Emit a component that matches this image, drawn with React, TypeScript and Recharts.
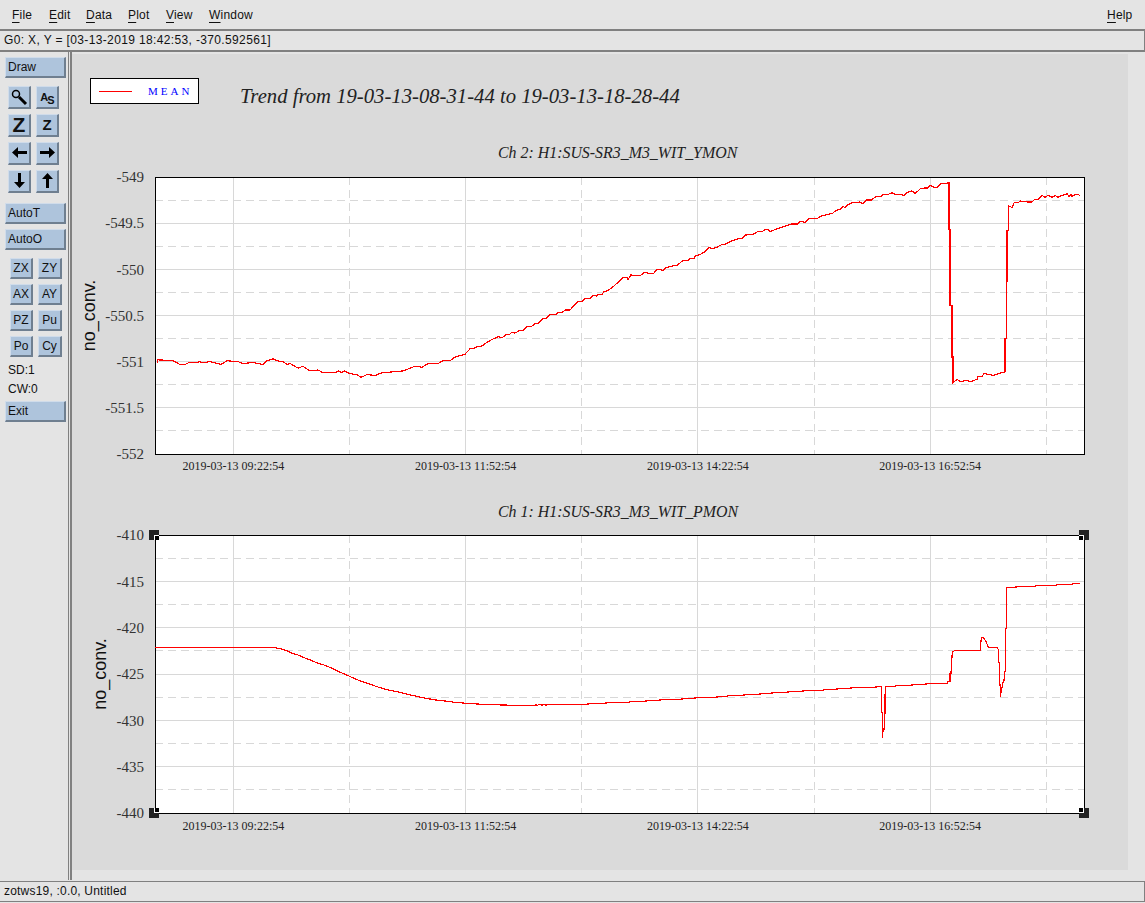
import { CartesianGrid, Line, LineChart, ReferenceArea, XAxis, YAxis } from "recharts";

const menuLeft = [
  ["File", 12],
  ["Edit", 49],
  ["Data", 86],
  ["Plot", 128],
  ["View", 166],
  ["Window", 209],
  ["Help", 1107],
] as const;

// minutes since 08:31:44
const xDomain = [0, 600];
const xMajorTicks = [50.67, 200.67, 350.67, 500.67];
const xMinorTicks = [125.67, 275.67, 425.67, 575.67];
const xTickLabels = [
  "2019-03-13 09:22:54",
  "2019-03-13 11:52:54",
  "2019-03-13 14:22:54",
  "2019-03-13 16:52:54",
];

const ymonTicks = [-549, -549.5, -550, -550.5, -551, -551.5, -552];
const ymonMinor = [-549.25, -549.75, -550.25, -550.75, -551.25, -551.75];
const pmonTicks = [-410, -415, -420, -425, -430, -435, -440];
const pmonMinor = [-412.5, -417.5, -422.5, -427.5, -432.5, -437.5];

const ymonTimes = [
  1.3, 1.9, 11.6, 16.1, 19.4, 22.0, 27.1, 28.4, 31.0, 35.5, 42.6, 46.5, 53.6, 56.8, 63.3, 69.8, 72.3, 76.2, 78.8,
  82.7, 85.3, 87.2, 92.4, 95.6, 100.1, 105.3, 108.5, 116.9, 118.2, 120.8, 122.1, 125.9, 130.5, 133.1, 136.9, 142.1,
  146.6, 153.7, 160.2, 167.9, 172.5, 176.3, 182.8, 186.0, 190.5, 193.8, 200.2, 203.5, 205.4, 208.0, 211.2, 214.4,
  217.7, 221.5, 224.1, 226.7, 228.6, 230.6, 232.5, 235.8, 237.7, 240.3, 242.9, 245.4, 248.0, 250.0, 252.5, 255.1,
  259.0, 260.3, 262.9, 264.8, 268.0, 273.2, 275.8, 277.7, 279.7, 281.6, 282.9, 285.5, 286.1, 288.7, 290.0, 292.6,
  295.8, 298.4, 302.3, 304.9, 305.5, 307.4, 310.7, 313.3, 316.5, 319.7, 322.3, 324.2, 328.1, 330.1, 333.3, 334.6,
  337.2, 340.4, 344.3, 346.2, 348.1, 349.4, 352.0, 355.2, 357.8, 359.8, 363.0, 366.2, 368.2, 371.4, 374.6, 376.6,
  379.1, 381.1, 384.3, 386.2, 389.5, 392.1, 394.0, 395.9, 397.2, 400.5, 403.7, 405.6, 407.6, 410.8, 414.7, 416.6,
  419.8, 422.4, 427.6, 430.8, 433.4, 437.9, 439.9, 442.4, 444.4, 445.7, 447.6, 450.2, 453.4, 454.7, 457.3, 459.2,
  462.5, 465.7, 468.9, 470.2, 473.4, 476.0, 478.6, 481.2, 483.8, 485.7, 488.9, 490.9, 494.1, 496.7, 499.3, 500.6,
  503.1, 505.1, 507.7, 510.9, 512.8, 512.8, 513.5, 513.5, 514.8, 514.8, 515.4, 515.4, 518.0, 520.6, 521.9, 524.5,
  526.4, 530.9, 531.6, 534.2, 535.4, 539.3, 541.3, 544.5, 547.1, 549.0, 549.0, 549.7, 549.7, 550.3, 550.3, 551.0,
  551.0, 553.5, 554.8, 557.4, 558.7, 563.2, 566.4, 568.4, 570.3, 572.9, 574.8, 576.8, 579.4, 581.3, 583.2, 585.2,
  588.4, 589.1, 590.3, 591.6, 592.3, 594.2, 596.2, 597.4,
];
const ymonValues = [
  -551.01, -550.98, -550.99, -551.03, -551.03, -551.01, -551.01, -551.0, -551.01, -551.0, -551.03, -550.99, -551.0,
  -551.02, -551.01, -551.03, -550.99, -550.97, -550.99, -551.0, -551.03, -551.02, -551.07, -551.05, -551.1, -551.09,
  -551.12, -551.12, -551.1, -551.12, -551.1, -551.13, -551.14, -551.17, -551.14, -551.15, -551.12, -551.11, -551.1,
  -551.05, -551.06, -551.02, -551.02, -550.99, -550.99, -550.95, -550.92, -550.86, -550.86, -550.84, -550.83, -550.79,
  -550.76, -550.73, -550.74, -550.71, -550.71, -550.68, -550.69, -550.66, -550.66, -550.62, -550.62, -550.59, -550.58,
  -550.54, -550.53, -550.49, -550.49, -550.47, -550.47, -550.44, -550.44, -550.35, -550.35, -550.32, -550.32, -550.31,
  -550.28, -550.29, -550.27, -550.27, -550.24, -550.23, -550.19, -550.15, -550.09, -550.09, -550.11, -550.06, -550.07,
  -550.07, -550.03, -550.05, -550.04, -550.0, -550.01, -549.98, -549.97, -549.96, -549.96, -549.91, -549.9, -549.88,
  -549.88, -549.85, -549.84, -549.81, -549.76, -549.78, -549.76, -549.73, -549.73, -549.7, -549.68, -549.67, -549.67,
  -549.63, -549.62, -549.62, -549.59, -549.59, -549.57, -549.57, -549.59, -549.57, -549.55, -549.54, -549.53, -549.51,
  -549.51, -549.48, -549.49, -549.45, -549.45, -549.42, -549.41, -549.39, -549.36, -549.35, -549.32, -549.33, -549.3,
  -549.28, -549.28, -549.27, -549.29, -549.25, -549.25, -549.21, -549.21, -549.19, -549.19, -549.17, -549.19, -549.19,
  -549.2, -549.17, -549.15, -549.18, -549.13, -549.12, -549.12, -549.09, -549.11, -549.11, -549.07, -549.07, -549.06,
  -549.57, -549.57, -550.39, -550.39, -550.95, -550.95, -551.23, -551.19, -551.22, -551.21, -551.2, -551.22, -551.19,
  -551.16, -551.16, -551.13, -551.14, -551.15, -551.13, -551.12, -551.11, -550.75, -550.75, -550.13, -550.13, -549.58,
  -549.58, -549.31, -549.33, -549.28, -549.28, -549.26, -549.27, -549.27, -549.24, -549.24, -549.2, -549.22, -549.2,
  -549.22, -549.2, -549.22, -549.2, -549.19, -549.18, -549.21, -549.19, -549.21, -549.19, -549.19, -549.2,
];

const pmonTimes = [
  0.3, 76.2, 80.7, 85.3, 88.5, 92.4, 96.9, 101.4, 105.3, 109.8, 114.3, 118.2, 124.7, 131.1, 137.6, 144.0, 150.5,
  157.0, 163.4, 169.9, 176.3, 182.8, 188.6, 193.1, 200.9, 211.2, 231.2, 245.4, 246.1, 246.7, 248.7, 250.0, 251.3,
  252.5, 253.2, 279.7, 279.7, 291.3, 291.3, 306.2, 306.2, 317.1, 317.1, 326.2, 326.2, 340.4, 340.4, 348.8, 348.8,
  363.0, 363.0, 369.5, 369.5, 380.4, 380.4, 390.8, 390.8, 398.5, 398.5, 408.8, 408.8, 418.5, 418.5, 431.5, 431.5,
  440.5, 440.5, 449.5, 449.5, 465.7, 465.7, 469.4, 469.4, 470.0, 470.0, 470.2, 470.9, 470.9, 471.5, 471.5, 471.7,
  478.0, 478.0, 488.9, 488.9, 498.0, 498.0, 511.6, 511.6, 513.5, 513.5, 514.1, 514.6, 515.0, 516.7, 533.0, 533.0,
  533.9, 535.2, 536.5, 537.4, 538.2, 544.0, 544.7, 544.7, 545.3, 545.3, 546.0, 546.0, 546.6, 546.6, 547.3, 548.2,
  548.8, 548.8, 549.4, 549.4, 550.1, 550.1, 556.5, 558.7, 568.8, 569.0, 582.4, 582.6, 592.7, 592.9, 597.2,
];
const pmonValues = [
  -422.12, -422.12, -422.27, -422.48, -422.76, -422.95, -423.27, -423.56, -423.84, -424.06, -424.38, -424.71, -425.18,
  -425.65, -426.04, -426.4, -426.72, -426.94, -427.19, -427.45, -427.66, -427.84, -427.94, -428.05, -428.16, -428.27,
  -428.38, -428.38, -428.27, -428.38, -428.27, -428.38, -428.27, -428.38, -428.27, -428.27, -428.16, -428.16, -428.05,
  -428.05, -427.94, -427.94, -427.84, -427.84, -427.73, -427.73, -427.62, -427.62, -427.51, -427.51, -427.4, -427.4,
  -427.3, -427.3, -427.19, -427.19, -427.08, -427.08, -426.97, -426.97, -426.86, -426.86, -426.76, -426.76, -426.65,
  -426.65, -426.54, -426.54, -426.43, -426.43, -426.33, -426.33, -429.13, -429.13, -431.94, -430.93, -430.93, -429.2,
  -429.2, -427.4, -426.33, -426.33, -426.22, -426.22, -426.11, -426.11, -426.0, -426.0, -425.83, -425.83, -424.92,
  -424.92, -423.49, -422.59, -422.48, -422.48, -421.87, -421.08, -421.08, -421.44, -421.79, -422.12, -422.12, -422.41,
  -423.74, -423.74, -426.19, -426.19, -427.48, -426.54, -427.0, -426.19, -425.65, -425.65, -424.75, -424.75, -420.07,
  -420.07, -415.69, -415.61, -415.54, -415.54, -415.43, -415.43, -415.32, -415.32, -415.21, -415.21,
];

const ymonData = ymonTimes.map((t, i) => ({ t, v: ymonValues[i] }));
const pmonData = pmonTimes.map((t, i) => ({ t, v: pmonValues[i] }));

const sans = "'Liberation Sans', sans-serif";
const serif = "'Liberation Serif', serif";
const panel = "#e4e4e4";
const plotBg = "#dadada";
const btn = "#aec4dc";

function Trend({ top, height, marginTop, xHeight, xTickMargin, data, yDomain, yTicks, yMinor, labelOffset }: any) {
  return (
    <div style={{ position: "absolute", left: 0, top }}>
      <LineChart width={1145} height={height} data={data} margin={{ top: marginTop, right: 61, bottom: 0, left: 0 }}>
        <CartesianGrid
          fill="#fff"
          stroke="#d8d8d8"
          horizontalValues={yTicks}
          verticalValues={xMajorTicks}
          shapeRendering="crispEdges"
        />
        <CartesianGrid
          fill="none"
          stroke="#d8d8d8"
          strokeDasharray="8 5"
          horizontalValues={yMinor}
          verticalValues={xMinorTicks}
          shapeRendering="crispEdges"
        />
        <XAxis
          type="number"
          dataKey="t"
          domain={xDomain}
          ticks={xMajorTicks}
          height={xHeight}
          interval={0}
          axisLine={false}
          tickLine={false}
          tickMargin={xTickMargin}
          tickFormatter={(t: number) => xTickLabels[xMajorTicks.indexOf(t)]}
          tick={{ fontFamily: serif, fontSize: 12, fill: "#222" }}
        />
        <YAxis
          type="number"
          domain={yDomain}
          ticks={yTicks}
          width={155}
          interval={0}
          axisLine={false}
          tickLine={false}
          tickMargin={5}
          tick={{ fontFamily: serif, fontSize: 15, fill: "#333" }}
          label={{
            value: "no_conv.",
            angle: -90,
            position: "insideLeft",
            offset: labelOffset,
            style: { fontFamily: sans, fontSize: 18, fill: "#111", textAnchor: "middle" },
          }}
        />
        <ReferenceArea
          x1={xDomain[0]}
          x2={xDomain[1]}
          y1={yDomain[0]}
          y2={yDomain[1]}
          fill="none"
          stroke="#000"
          strokeOpacity={1}
          shapeRendering="crispEdges"
        />
        <Line
          dataKey="v"
          type="linear"
          stroke="#f00"
          strokeWidth={1.2}
          dot={false}
          isAnimationActive={false}
          shapeRendering="crispEdges"
        />
      </LineChart>
    </div>
  );
}

function Button({ x, y, w, h, children }: any) {
  return (
    <div
      style={{
        position: "absolute",
        left: x,
        top: y,
        width: w,
        height: h,
        boxSizing: "border-box",
        background: btn,
        borderTop: "1px solid #d0dcea",
        borderLeft: "1px solid #d0dcea",
        borderBottom: "2px solid #6f7f90",
        borderRight: "2px solid #6f7f90",
        fontFamily: sans,
        fontSize: 12,
        color: "#111",
        lineHeight: `${h - 3}px`,
        paddingLeft: w > 40 ? 2 : 0,
        textAlign: w > 40 ? "left" : "center",
        overflow: "hidden",
      }}
    >
      {children}
    </div>
  );
}

function Arrow({ rotate }: { rotate: number }) {
  return (
    <svg width={21} height={19} viewBox="0 0 21 19" style={{ display: "block" }}>
      <path d="M3 9.5 L9 4 V8 H18 V11 H9 V15 Z" fill="#000" transform={`rotate(${rotate} 10.5 9.5)`} />
    </svg>
  );
}

function Handle({ x, y, corner }: { x: number; y: number; corner: "tl" | "tr" | "bl" | "br" }) {
  const inner: any = { position: "absolute", width: 5, height: 5, boxSizing: "border-box", background: "#000" };
  if (corner[0] === "t") {
    inner.bottom = 0;
    inner.borderTop = "1px solid #fff";
  } else {
    inner.top = 0;
    inner.borderBottom = "1px solid #fff";
  }
  if (corner[1] === "l") {
    inner.right = 0;
    inner.borderLeft = "1px solid #fff";
  } else {
    inner.left = 0;
    inner.borderRight = "1px solid #fff";
  }
  return (
    <div style={{ position: "absolute", left: x - 5, top: y - 5, width: 10, height: 10, background: "#222" }}>
      <div style={inner} />
    </div>
  );
}

function At({ x, y, style, children }: any) {
  return (
    <div style={{ position: "absolute", left: x, top: y, whiteSpace: "nowrap", ...style }}>{children}</div>
  );
}

export default function App() {
  return (
    <div style={{ position: "absolute", left: 0, top: 0, width: 1145, height: 903, background: panel, overflow: "hidden" }}>
      {/* menu bar and readout */}
      <div style={{ position: "absolute", left: 0, top: 29, width: 1145, height: 2, background: "#808080" }} />
      <div style={{ position: "absolute", left: 0, top: 31, width: 1144, height: 19, borderRight: "1px solid #808080" }} />
      <div style={{ position: "absolute", left: 0, top: 50, width: 1145, height: 2, background: "#808080" }} />
      {menuLeft.map(([name, x]) => (
        <At key={name} x={x} y={8} style={{ fontFamily: sans, fontSize: 12, color: "#111", letterSpacing: 0.2 }}>
          <span style={{ textDecoration: "underline", textUnderlineOffset: 3 }}>{name[0]}</span>
          {name.slice(1)}
        </At>
      ))}
      <At x={4} y={33} style={{ fontFamily: sans, fontSize: 12, color: "#111", letterSpacing: 0.36 }}>
        G0: X, Y = [03-13-2019 18:42:53, -370.592561]
      </At>

      {/* left tool column */}
      <div style={{ position: "absolute", left: 68, top: 52, width: 1, height: 828, background: "#808080" }} />
      <div style={{ position: "absolute", left: 70, top: 52, width: 2, height: 828, background: "#808080" }} />
      <Button x={5} y={57} w={61} h={21}>Draw</Button>
      <Button x={8} y={86} w={23} h={23}>
        <svg width={20} height={20} viewBox="0 0 20 20" style={{ display: "block" }}>
          <circle cx={7} cy={7} r={3.5} fill="none" stroke="#000" strokeWidth={1.5} />
          <path d="M10 10 L17 17" stroke="#000" strokeWidth={3} />
        </svg>
      </Button>
      <Button x={36} y={86} w={23} h={23}>
        <span style={{ fontWeight: 700, fontSize: 11, letterSpacing: -1 }}>A<sub style={{ fontSize: 11 }}>S</sub></span>
      </Button>
      <Button x={8} y={114} w={23} h={23}>
        <span style={{ fontWeight: 700, fontSize: 21, lineHeight: "20px" }}>Z</span>
      </Button>
      <Button x={36} y={114} w={23} h={23}>
        <span style={{ fontWeight: 700, fontSize: 15, lineHeight: "20px" }}>Z</span>
      </Button>
      <Button x={8} y={142} w={23} h={23}><Arrow rotate={0} /></Button>
      <Button x={36} y={142} w={23} h={23}><Arrow rotate={180} /></Button>
      <Button x={8} y={170} w={23} h={23}><Arrow rotate={270} /></Button>
      <Button x={36} y={170} w={23} h={23}><Arrow rotate={90} /></Button>
      <Button x={5} y={203} w={61} h={21}>AutoT</Button>
      <Button x={5} y={229} w={61} h={21}>AutoO</Button>
      {[
        ["ZX", "ZY", 258],
        ["AX", "AY", 284],
        ["PZ", "Pu", 310],
        ["Po", "Cy", 336],
      ].map(([a, b, y]) => (
        <div key={a as string}>
          <Button x={10} y={y} w={23} h={21}>{a}</Button>
          <Button x={38} y={y} w={24} h={21}>{b}</Button>
        </div>
      ))}
      <At x={8} y={363} style={{ fontFamily: sans, fontSize: 12, color: "#111" }}>SD:1</At>
      <At x={8} y={382} style={{ fontFamily: sans, fontSize: 12, color: "#111" }}>CW:0</At>
      <Button x={5} y={401} w={61} h={21}>Exit</Button>

      {/* plot area */}
      <div style={{ position: "absolute", left: 72, top: 54, width: 1056, height: 816, background: plotBg }} />
      <div style={{ position: "absolute", left: 90, top: 78, width: 109, height: 26, boxSizing: "border-box", background: "#fff", border: "1px solid #000" }} />
      <div style={{ position: "absolute", left: 99, top: 91, width: 33, height: 1, background: "#f00" }} />
      <At x={148} y={85} style={{ fontFamily: serif, fontSize: 11, color: "#00f", letterSpacing: 3 }}>MEAN</At>
      <At x={240} y={85} style={{ fontFamily: serif, fontStyle: "italic", fontSize: 20.7, color: "#222" }}>
        Trend from 19-03-13-08-31-44 to 19-03-13-18-28-44
      </At>
      <At x={498} y={144} style={{ fontFamily: serif, fontStyle: "italic", fontSize: 15.9, color: "#222" }}>
        Ch 2: H1:SUS-SR3_M3_WIT_YMON
      </At>
      <At x={498} y={503} style={{ fontFamily: serif, fontStyle: "italic", fontSize: 15.9, color: "#222" }}>
        Ch 1: H1:SUS-SR3_M3_WIT_PMON
      </At>

      <Trend
        top={140}
        height={340}
        marginTop={37}
        xHeight={26}
        xTickMargin={1}
        data={ymonData}
        yDomain={[-552, -549]}
        yTicks={ymonTicks}
        yMinor={ymonMinor}
        labelOffset={89}
      />
      <Trend
        top={500}
        height={340}
        marginTop={35}
        xHeight={27}
        xTickMargin={2}
        data={pmonData}
        yDomain={[-440, -410]}
        yTicks={pmonTicks}
        yMinor={pmonMinor}
        labelOffset={100}
      />
      <Handle x={154} y={535} corner="tl" />
      <Handle x={1084} y={535} corner="tr" />
      <Handle x={154} y={813} corner="bl" />
      <Handle x={1084} y={813} corner="br" />

      {/* status bar */}
      <div style={{ position: "absolute", left: 0, top: 881, width: 1144, height: 19, boxSizing: "content-box", borderTop: "1px solid #808080", borderBottom: "1px solid #808080", borderRight: "1px solid #808080" }} />
      <At x={4} y={884} style={{ fontFamily: sans, fontSize: 12, color: "#111", letterSpacing: 0.2 }}>
        zotws19, :0.0, Untitled
      </At>
    </div>
  );
}
